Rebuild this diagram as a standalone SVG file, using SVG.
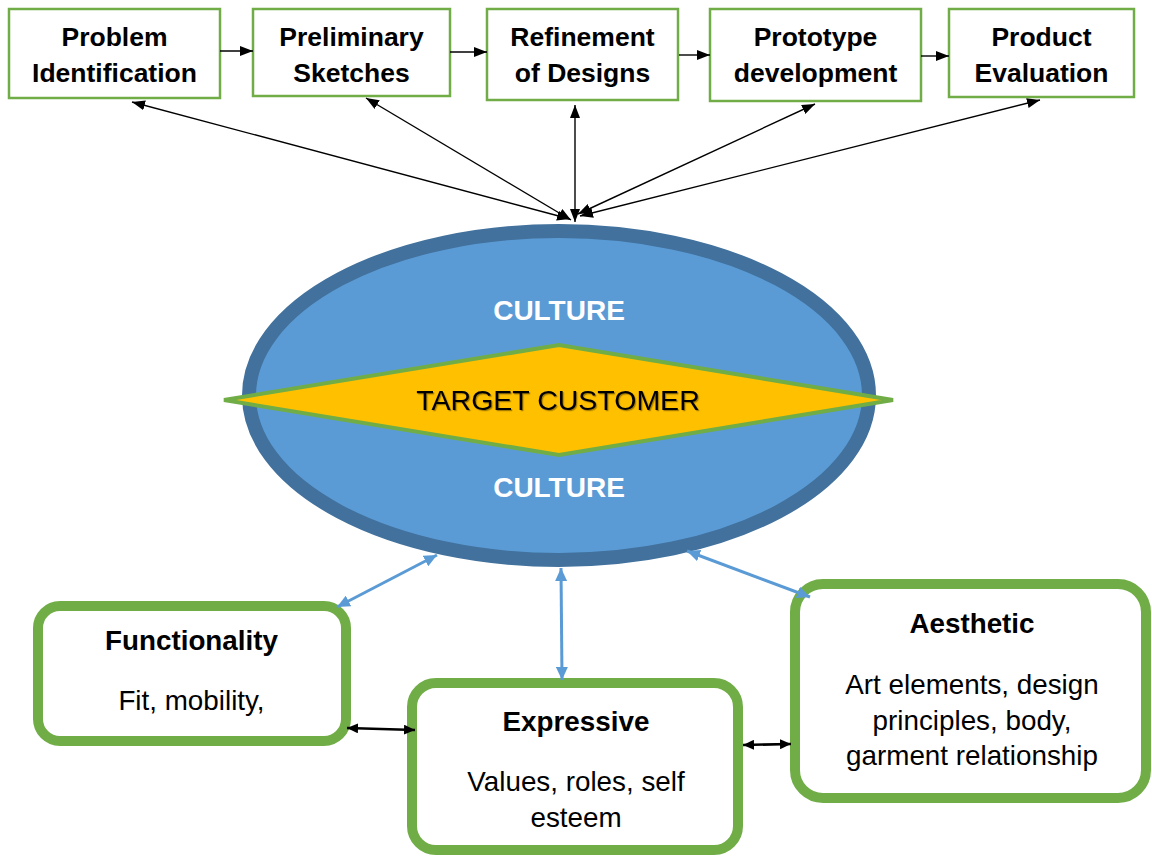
<svg xmlns="http://www.w3.org/2000/svg" width="1152" height="857" viewBox="0 0 1152 857">
<style>
.box{fill:#fff;stroke:#70AD47;stroke-width:2.5}
.rbox{fill:#fff;stroke:#70AD47;stroke-width:10}
.t{font-family:"Liberation Sans",Arial,sans-serif;font-size:26.5px;fill:#000;text-anchor:middle}
.l{font-size:27.8px}
.b{font-weight:bold}
.w{fill:#fff;font-weight:bold;font-size:28px}
.tc{font-size:28.5px}
.thin{stroke:#000;stroke-width:1.4;fill:none}
.thick{stroke:#000;stroke-width:2.6;fill:none}
.blue{stroke:#5B9BD5;stroke-width:3;fill:none}
</style>
<defs>
<marker id="ah" markerUnits="userSpaceOnUse" markerWidth="14" markerHeight="10" refX="13" refY="5" orient="auto-start-reverse">
<path d="M0,0 L13,5 L0,10 z" fill="#000"/>
</marker>
<marker id="ahb" markerUnits="userSpaceOnUse" markerWidth="12" markerHeight="10" refX="11" refY="5" orient="auto-start-reverse">
<path d="M0,0 L11,5 L0,10 z" fill="#000"/>
</marker>
<marker id="ahl" markerUnits="userSpaceOnUse" markerWidth="14" markerHeight="12" refX="13" refY="6" orient="auto-start-reverse">
<path d="M0,0 L13,6 L0,12 z" fill="#5B9BD5"/>
</marker>
<filter id="sh" x="-5%" y="-20%" width="110%" height="140%">
<feDropShadow dx="1.2" dy="1.2" stdDeviation="0.6" flood-color="#000" flood-opacity="0.35"/>
</filter>
</defs>

<g id="problem-identification">
<rect class="box" x="9" y="9" width="211" height="89"/>
<text class="t b" x="114.5" y="46">Problem</text>
<text class="t b" x="114.5" y="82">Identification</text>
</g>
<g id="preliminary-sketches">
<rect class="box" x="253" y="9" width="197" height="87"/>
<text class="t b" x="351.5" y="46">Preliminary</text>
<text class="t b" x="351.5" y="82">Sketches</text>
</g>
<g id="refinement-of-designs">
<rect class="box" x="487" y="9" width="191" height="91"/>
<text class="t b" x="582.5" y="46">Refinement</text>
<text class="t b" x="582.5" y="82">of Designs</text>
</g>
<g id="prototype-development">
<rect class="box" x="710" y="9" width="211" height="92"/>
<text class="t b" x="815.5" y="46">Prototype</text>
<text class="t b" x="815.5" y="82">development</text>
</g>
<g id="product-evaluation">
<rect class="box" x="949" y="9" width="185" height="88"/>
<text class="t b" x="1041.5" y="46">Product</text>
<text class="t b" x="1041.5" y="82">Evaluation</text>
</g>

<g id="culture">
<ellipse cx="559" cy="395.5" rx="310" ry="164.5" fill="#5B9BD5" stroke="#41719C" stroke-width="14"/>
<text class="t w" x="559" y="320">CULTURE</text>
<text class="t w" x="559" y="497">CULTURE</text>
</g>
<g id="target-customer">
<polygon points="224,400 559,345 893,400 559,455" fill="#FFC000" stroke="#70AD47" stroke-width="4"/>
<text class="t tc" x="558" y="410" filter="url(#sh)">TARGET CUSTOMER</text>
</g>

<g id="functionality">
<rect class="rbox" x="38" y="606" width="308" height="135" rx="22"/>
<text class="t l b" x="191.5" y="650">Functionality</text>
<text class="t l" x="191.5" y="710">Fit, mobility,</text>
</g>
<g id="expressive">
<rect class="rbox" x="412" y="683" width="326" height="167" rx="24"/>
<text class="t l b" x="576" y="731">Expressive</text>
<text class="t l" x="576" y="791">Values, roles, self</text>
<text class="t l" x="576" y="827">esteem</text>
</g>
<g id="aesthetic">
<rect class="rbox" x="795" y="584" width="351" height="214" rx="28"/>
<text class="t l b" x="972" y="633">Aesthetic</text>
<text class="t l" x="972" y="694">Art elements, design</text>
<text class="t l" x="972" y="730">principles, body,</text>
<text class="t l" x="972" y="765">garment relationship</text>
</g>

<g id="connectors">
<line class="thin" x1="220" y1="51" x2="253" y2="51" marker-end="url(#ah)"/>
<line class="thin" x1="450" y1="52" x2="487" y2="52" marker-end="url(#ah)"/>
<line class="thin" x1="679" y1="55" x2="710" y2="55" marker-end="url(#ah)"/>
<line class="thin" x1="921" y1="56" x2="949" y2="56" marker-end="url(#ah)"/>

<line class="thin" x1="570" y1="219" x2="132" y2="102" marker-start="url(#ah)" marker-end="url(#ah)"/>
<line class="thin" x1="571" y1="220" x2="366" y2="98" marker-start="url(#ah)" marker-end="url(#ah)"/>
<line class="thin" x1="575" y1="222" x2="575" y2="105" marker-start="url(#ah)" marker-end="url(#ah)"/>
<line class="thin" x1="578" y1="214" x2="815" y2="104" marker-start="url(#ah)" marker-end="url(#ah)"/>
<line class="thin" x1="580" y1="216" x2="1040" y2="100" marker-start="url(#ah)" marker-end="url(#ah)"/>

<line class="blue" x1="337" y1="607" x2="437" y2="555" marker-start="url(#ahl)" marker-end="url(#ahl)"/>
<line class="blue" x1="561" y1="568" x2="562" y2="680" marker-start="url(#ahl)" marker-end="url(#ahl)"/>
<line class="blue" x1="687" y1="551" x2="810" y2="597" marker-start="url(#ahl)" marker-end="url(#ahl)"/>

<line class="thick" x1="347" y1="728" x2="415" y2="730" marker-start="url(#ahb)" marker-end="url(#ahb)"/>
<line class="thick" x1="743" y1="745" x2="791" y2="744" marker-start="url(#ahb)" marker-end="url(#ahb)"/>
</g>
</svg>
